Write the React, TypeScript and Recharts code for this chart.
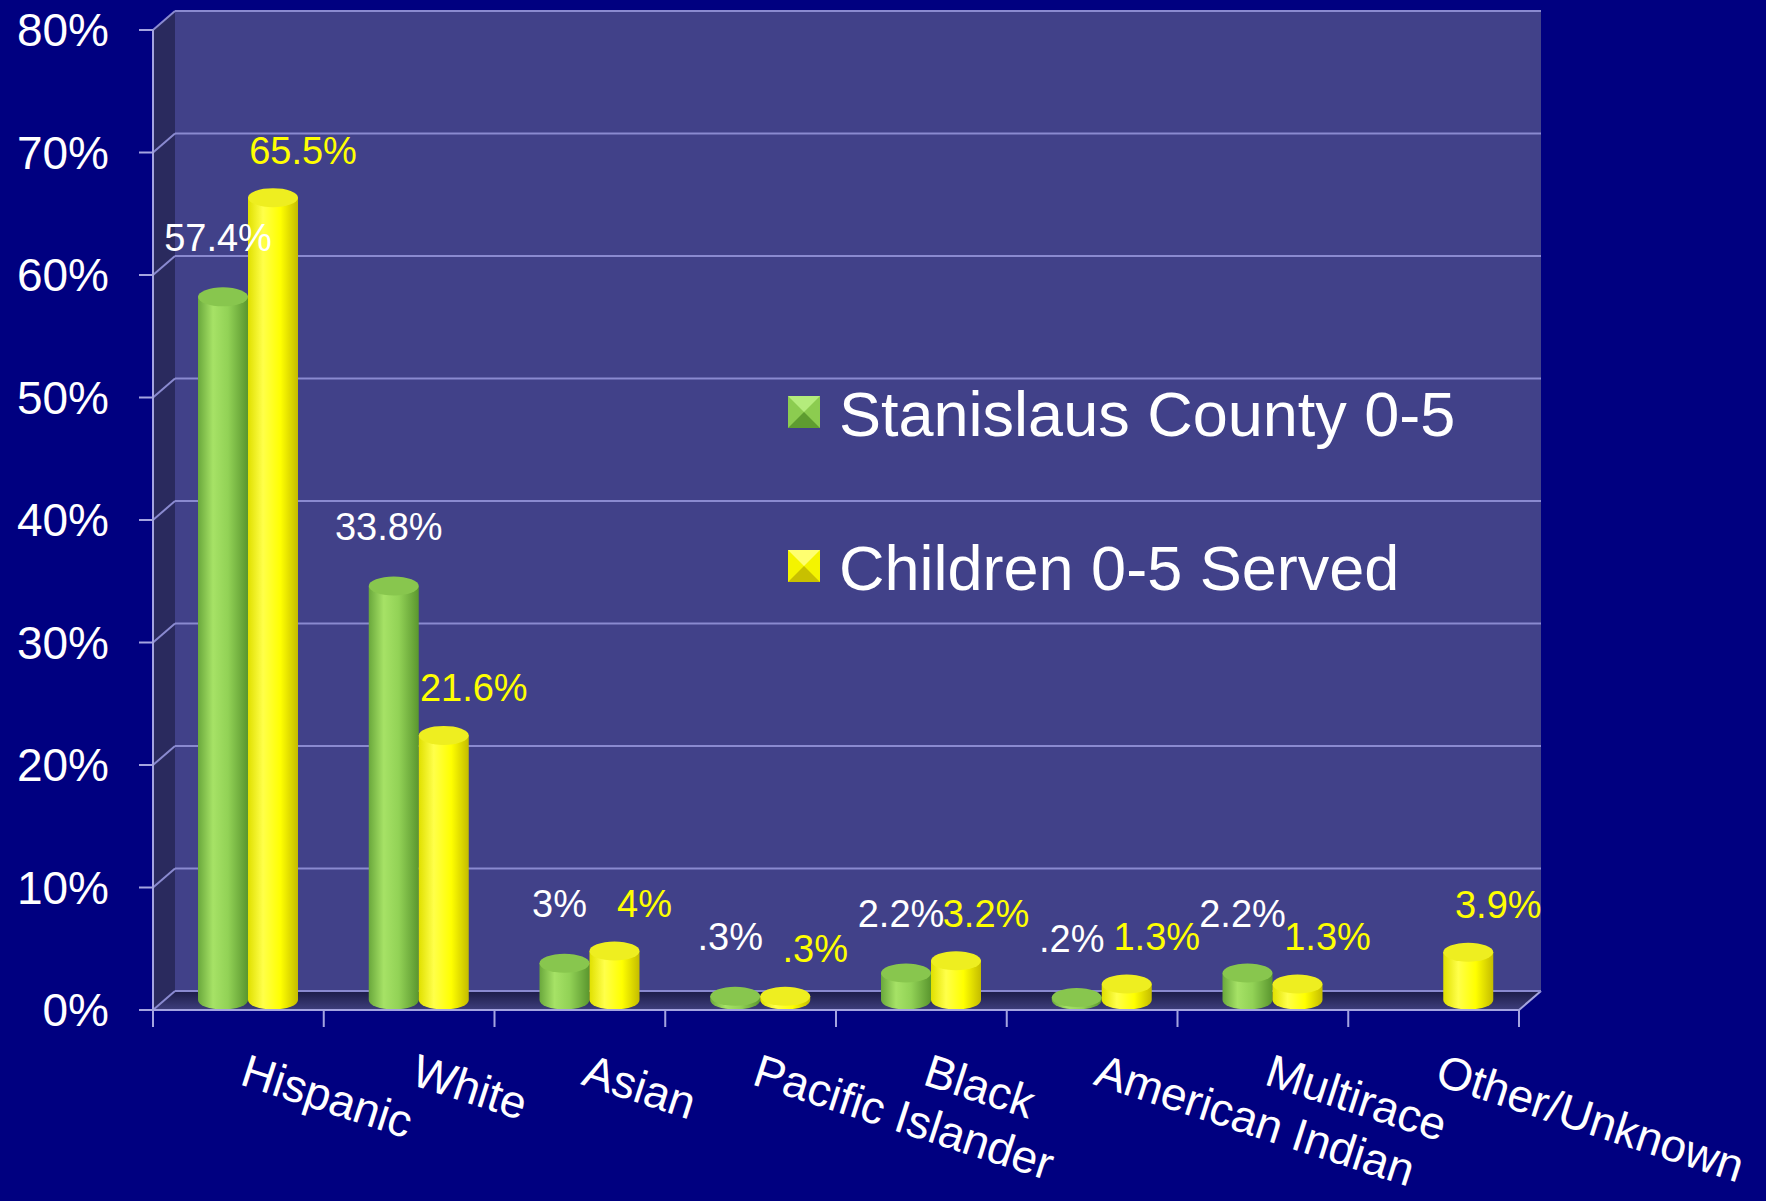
import {
  Bar,
  BarChart,
  CartesianGrid,
  LabelList,
  Legend,
  ReferenceArea,
  XAxis,
  YAxis,
} from "recharts"

const categories = [
  "Hispanic",
  "White",
  "Asian",
  "Pacific Islander",
  "Black",
  "American Indian",
  "Multirace",
  "Other/Unknown",
]
const countyShare: Array<number | null> = [57.4, 33.8, 3, 0.3, 2.2, 0.2, 2.2, null]
const servedShare: Array<number | null> = [65.5, 21.6, 4, 0.3, 3.2, 1.3, 1.3, 3.9]
const yTicks = [0, 10, 20, 30, 40, 50, 60, 70, 80]
const seriesNames = ["Stanislaus County 0-5", "Children 0-5 Served"]

const data = categories.map((race, i) => ({
  race,
  county: countyShare[i],
  served: servedShare[i],
}))

const FONT = '"Liberation Sans", Arial, sans-serif'
const NAVY = "#000080"
const WALL = "#414189"
const SIDE = "#2a2a5e"
const GRID = "#8a8ad0"
const AXIS = "#a4a4e0"

// 3d look: back wall sits up/right of the front plane, bars halfway
const DEPTH_X = 22
const DEPTH_Y = -19
const BAR_DX = 10
const BAR_DY = -10

const fmtPct = (v: number) => `${String(v).replace(/^0\./, ".")}%`

function BackWall(props: any) {
  const { x, y, width, height } = props
  const b = y + height
  const r = x + width
  return (
    <g>
      <rect x={x + DEPTH_X} y={y + DEPTH_Y} width={width} height={height} fill={WALL} />
      <polygon
        points={`${x},${y} ${x + DEPTH_X},${y + DEPTH_Y} ${x + DEPTH_X},${b + DEPTH_Y} ${x},${b}`}
        fill={SIDE}
      />
      <polygon
        points={`${x},${b} ${x + DEPTH_X},${b + DEPTH_Y} ${r + DEPTH_X},${b + DEPTH_Y} ${r},${b}`}
        fill="url(#floorGrad)"
      />
      <line x1={r} y1={b} x2={r + DEPTH_X} y2={b + DEPTH_Y} stroke={AXIS} strokeWidth={2} />
    </g>
  )
}

function GridLine(props: any) {
  const { x1, y1, x2, y2 } = props
  return (
    <g>
      <line x1={x1} y1={y1} x2={x1 + DEPTH_X} y2={y1 + DEPTH_Y} stroke={GRID} strokeWidth={2} />
      <line
        x1={x1 + DEPTH_X}
        y1={y1 + DEPTH_Y}
        x2={x2 + DEPTH_X}
        y2={y2 + DEPTH_Y}
        stroke={GRID}
        strokeWidth={2}
      />
    </g>
  )
}

function Cylinder(props: any) {
  const { x, y, width, height, payload, field, gradId, topFill } = props
  if (payload?.[field] == null || !width) return null
  const left = x + BAR_DX
  const right = left + width
  const cx = left + width / 2
  const top = y + BAR_DY
  const bottom = y + Math.max(height, 0) + BAR_DY
  const rx = width / 2
  const ry = width * 0.19
  return (
    <g>
      <path
        d={`M${left},${top} L${left},${bottom} A${rx},${ry} 0 0 0 ${right},${bottom} L${right},${top} Z`}
        fill={`url(#${gradId})`}
      />
      <ellipse cx={cx} cy={top} rx={rx} ry={ry} fill={topFill} />
    </g>
  )
}

function makeLabel(color: string, dx: number, lift: number) {
  return (props: any) => {
    const { x, y, width, value } = props
    if (value == null) return null
    return (
      <text
        x={x + width / 2 + BAR_DX + dx}
        y={y + BAR_DY - lift}
        fill={color}
        textAnchor="middle"
        fontSize={38}
        fontFamily={FONT}
      >
        {fmtPct(value)}
      </text>
    )
  }
}

function RaceTick(props: any) {
  const { x, y, payload, index, width, visibleTicksCount } = props
  let half = width / visibleTicksCount / 2
  if (!isFinite(half)) half = 1366 / categories.length / 2
  const ly = y + 74
  return (
    <g>
      <line x1={x - half} y1={y} x2={x - half} y2={y + 17} stroke={AXIS} strokeWidth={2} />
      {index === visibleTicksCount - 1 && (
        <line x1={x + half} y1={y} x2={x + half} y2={y + 17} stroke={AXIS} strokeWidth={2} />
      )}
      <text
        x={x}
        y={ly}
        transform={`rotate(18 ${x} ${ly})`}
        fill="#ffffff"
        fontSize={46}
        fontFamily={FONT}
        textAnchor="start"
      >
        {payload.value}
      </text>
    </g>
  )
}

function LegendSquare({ x, y, base, light, dark }: any) {
  const s = 32
  return (
    <g>
      <rect x={x} y={y} width={s} height={s} fill={base} />
      <polygon points={`${x},${y} ${x + s},${y} ${x + s / 2},${y + s / 2}`} fill={light} />
      <polygon points={`${x},${y + s} ${x + s},${y + s} ${x + s / 2},${y + s / 2}`} fill={dark} />
    </g>
  )
}

const legendColors = [
  { base: "#8ccc50", light: "#b4ec7c", dark: "#5e9c30" },
  { base: "#f4f400", light: "#ffff70", dark: "#c8c000" },
]

function LegendBox(props: any) {
  const items = [...(props.payload ?? [])].sort(
    (a: any, b: any) => seriesNames.indexOf(a.value) - seriesNames.indexOf(b.value)
  )
  return (
    <svg width={760} height={240} style={{ display: "block" }}>
      {items.map((item: any, i: number) => {
        const k = Math.max(seriesNames.indexOf(item.value), 0)
        return (
          <g key={i}>
            <LegendSquare x={0} y={16 + i * 154} {...legendColors[k]} />
            <text x={51} y={56 + i * 154} fill="#ffffff" fontSize={63} fontFamily={FONT}>
              {item.value}
            </text>
          </g>
        )
      })}
    </svg>
  )
}

export default function App() {
  return (
    <div
      style={{
        position: "absolute",
        left: 0,
        top: 0,
        width: 1766,
        height: 1201,
        background: NAVY,
        fontFamily: FONT,
      }}
    >
      <BarChart
        width={1766}
        height={1201}
        data={data}
        margin={{ top: 30, right: 247, bottom: 0, left: 0 }}
        barCategoryGap={35}
        barGap={0}
      >
        <defs>
          <linearGradient id="greenBody" x1="0" y1="0" x2="1" y2="0">
            <stop offset="0%" stopColor="#6aa83c" />
            <stop offset="30%" stopColor="#a6e266" />
            <stop offset="60%" stopColor="#92d256" />
            <stop offset="100%" stopColor="#5a962e" />
          </linearGradient>
          <linearGradient id="yellowBody" x1="0" y1="0" x2="1" y2="0">
            <stop offset="0%" stopColor="#e0e000" />
            <stop offset="30%" stopColor="#ffff4a" />
            <stop offset="65%" stopColor="#ffff00" />
            <stop offset="100%" stopColor="#c4bc00" />
          </linearGradient>
          <linearGradient id="floorGrad" x1="0" y1="0" x2="0" y2="1">
            <stop offset="0%" stopColor="#1c1c48" />
            <stop offset="100%" stopColor="#3e3e7c" />
          </linearGradient>
        </defs>
        <ReferenceArea y1={0} y2={80} shape={BackWall} ifOverflow="visible" zIndex={-200} />
        <CartesianGrid vertical={false} horizontal={GridLine} />
        <XAxis
          dataKey="race"
          height={191}
          interval={0}
          tickLine={false}
          tickSize={0}
          tickMargin={0}
          axisLine={{ stroke: AXIS, strokeWidth: 2 }}
          tick={(p: any) => <RaceTick {...p} />}
        />
        <YAxis
          domain={[0, 80]}
          ticks={yTicks}
          interval={0}
          allowDataOverflow
          width={153}
          tickSize={14}
          tickMargin={30}
          tickFormatter={(v: number) => `${v}%`}
          tick={{ fill: "#ffffff", fontSize: 46, fontFamily: FONT }}
          axisLine={{ stroke: AXIS, strokeWidth: 2 }}
          tickLine={{ stroke: AXIS, strokeWidth: 2 }}
        />
        <Legend
          layout="vertical"
          align="center"
          verticalAlign="middle"
          content={(p: any) => <LegendBox {...p} />}
          wrapperStyle={{ left: 788, top: 380, width: 760, height: 240 }}
        />
        <Bar
          dataKey="county"
          name={seriesNames[0]}
          fill="#8ccc50"
          isAnimationActive={false}
          shape={(p: any) => (
            <Cylinder {...p} field="county" gradId="greenBody" topFill="#88c64e" />
          )}
        >
          <LabelList dataKey="county" content={makeLabel("#ffffff", -5, 46)} />
        </Bar>
        <Bar
          dataKey="served"
          name={seriesNames[1]}
          fill="#ffff00"
          isAnimationActive={false}
          shape={(p: any) => (
            <Cylinder {...p} field="served" gradId="yellowBody" topFill="#eeee20" />
          )}
        >
          <LabelList dataKey="served" content={makeLabel("#ffff00", 30, 34)} />
        </Bar>
      </BarChart>
    </div>
  )
}
